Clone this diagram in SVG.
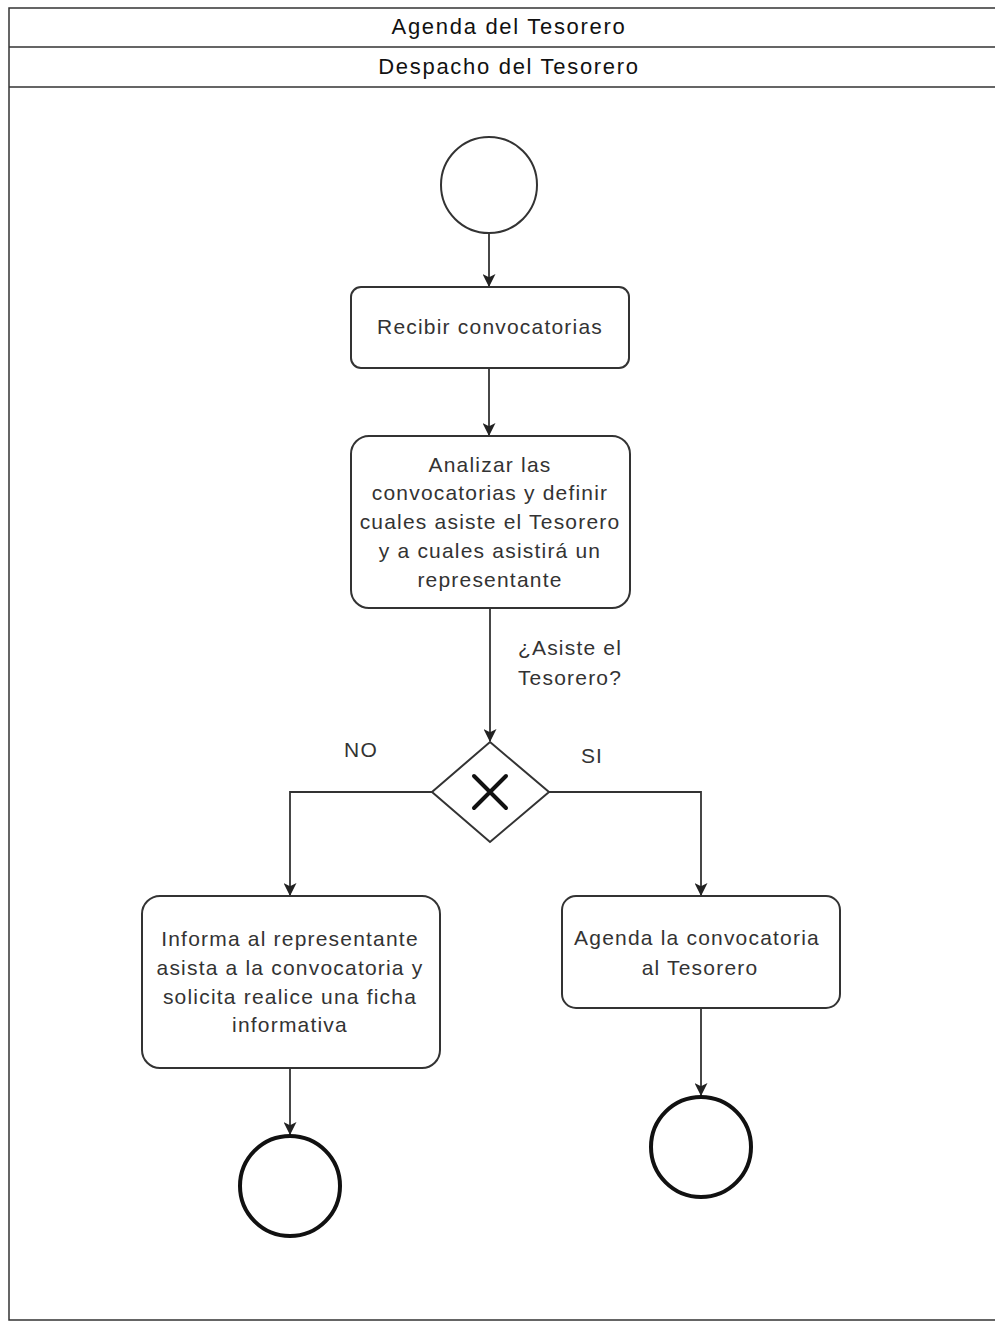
<svg xmlns="http://www.w3.org/2000/svg" width="995" height="1324" viewBox="0 0 995 1324">
<style>
.lane{fill:none;stroke:#333;stroke-width:1.5}
.box{fill:#fff;stroke:#333;stroke-width:2}
.t{font-family:"Liberation Sans",Arial,sans-serif;font-size:21px;letter-spacing:1.2px;fill:#333;text-anchor:middle}
.h{font-family:"Liberation Sans",Arial,sans-serif;font-size:22px;letter-spacing:1.7px;fill:#111;text-anchor:middle}
.c{fill:none;stroke:#333;stroke-width:1.8}
.end{fill:#fff;stroke:#111;stroke-width:4}
</style>
<defs>
<marker id="arr" viewBox="0 0 12 12" refX="11" refY="6" markerWidth="14" markerHeight="13" orient="auto" markerUnits="userSpaceOnUse">
<path d="M0,0 L12,6 L0,12 L3,6 Z" fill="#222"/>
</marker>
</defs>
<rect width="995" height="1324" fill="#fff"/>
<g id="pool">
<path class="lane" d="M1000,8 H9 V1320 H1000 M9,47 H1000 M9,87 H1000"/>
<text class="h" x="509" y="34">Agenda del Tesorero</text>
<text class="h" x="509" y="74">Despacho del Tesorero</text>
</g>
<g id="connectors">
<path class="c" d="M489,233 V286" marker-end="url(#arr)"/>
<path class="c" d="M489,368 V435" marker-end="url(#arr)"/>
<path class="c" d="M490,608 V741" marker-end="url(#arr)"/>
<path class="c" d="M432,792 H290 V895" marker-end="url(#arr)"/>
<path class="c" d="M549,792 H701 V895" marker-end="url(#arr)"/>
<path class="c" d="M290,1068 V1134" marker-end="url(#arr)"/>
<path class="c" d="M701,1008 V1095" marker-end="url(#arr)"/>
<text class="t" x="570" y="655">¿Asiste el</text>
<text class="t" x="570" y="685">Tesorero?</text>
<text class="t" x="361" y="757">NO</text>
<text class="t" x="592" y="763">SI</text>
</g>
<g id="start">
<circle cx="489" cy="185" r="48" fill="#fff" stroke="#333" stroke-width="2"/>
</g>
<g id="recibir">
<rect class="box" x="351" y="287" width="278" height="81" rx="10"/>
<text class="t" x="490" y="334">Recibir convocatorias</text>
</g>
<g id="analizar">
<rect class="box" x="351" y="436" width="279" height="172" rx="18"/>
<text class="t" x="490" y="472">Analizar las</text>
<text class="t" x="490" y="500">convocatorias y definir</text>
<text class="t" x="490" y="529">cuales asiste el Tesorero</text>
<text class="t" x="490" y="558">y a cuales asistirá un</text>
<text class="t" x="490" y="587">representante</text>
</g>
<g id="gateway">
<path d="M490,742 L549,792 L490,842 L432,792 Z" fill="#fff" stroke="#333" stroke-width="2"/>
<path d="M474,776 L506,808 M506,776 L474,808" stroke="#111" stroke-width="4" stroke-linecap="round"/>
</g>
<g id="informa">
<rect class="box" x="142" y="896" width="298" height="172" rx="18"/>
<text class="t" x="290" y="946">Informa al representante</text>
<text class="t" x="290" y="975">asista a la convocatoria y</text>
<text class="t" x="290" y="1004">solicita realice una ficha</text>
<text class="t" x="290" y="1032">informativa</text>
</g>
<g id="agenda">
<rect class="box" x="562" y="896" width="278" height="112" rx="14"/>
<text class="t" x="697" y="945">Agenda la convocatoria</text>
<text class="t" x="700" y="975">al Tesorero</text>
</g>
<g id="end1">
<circle class="end" cx="290" cy="1186" r="50"/>
</g>
<g id="end2">
<circle class="end" cx="701" cy="1147" r="50"/>
</g>
</svg>
